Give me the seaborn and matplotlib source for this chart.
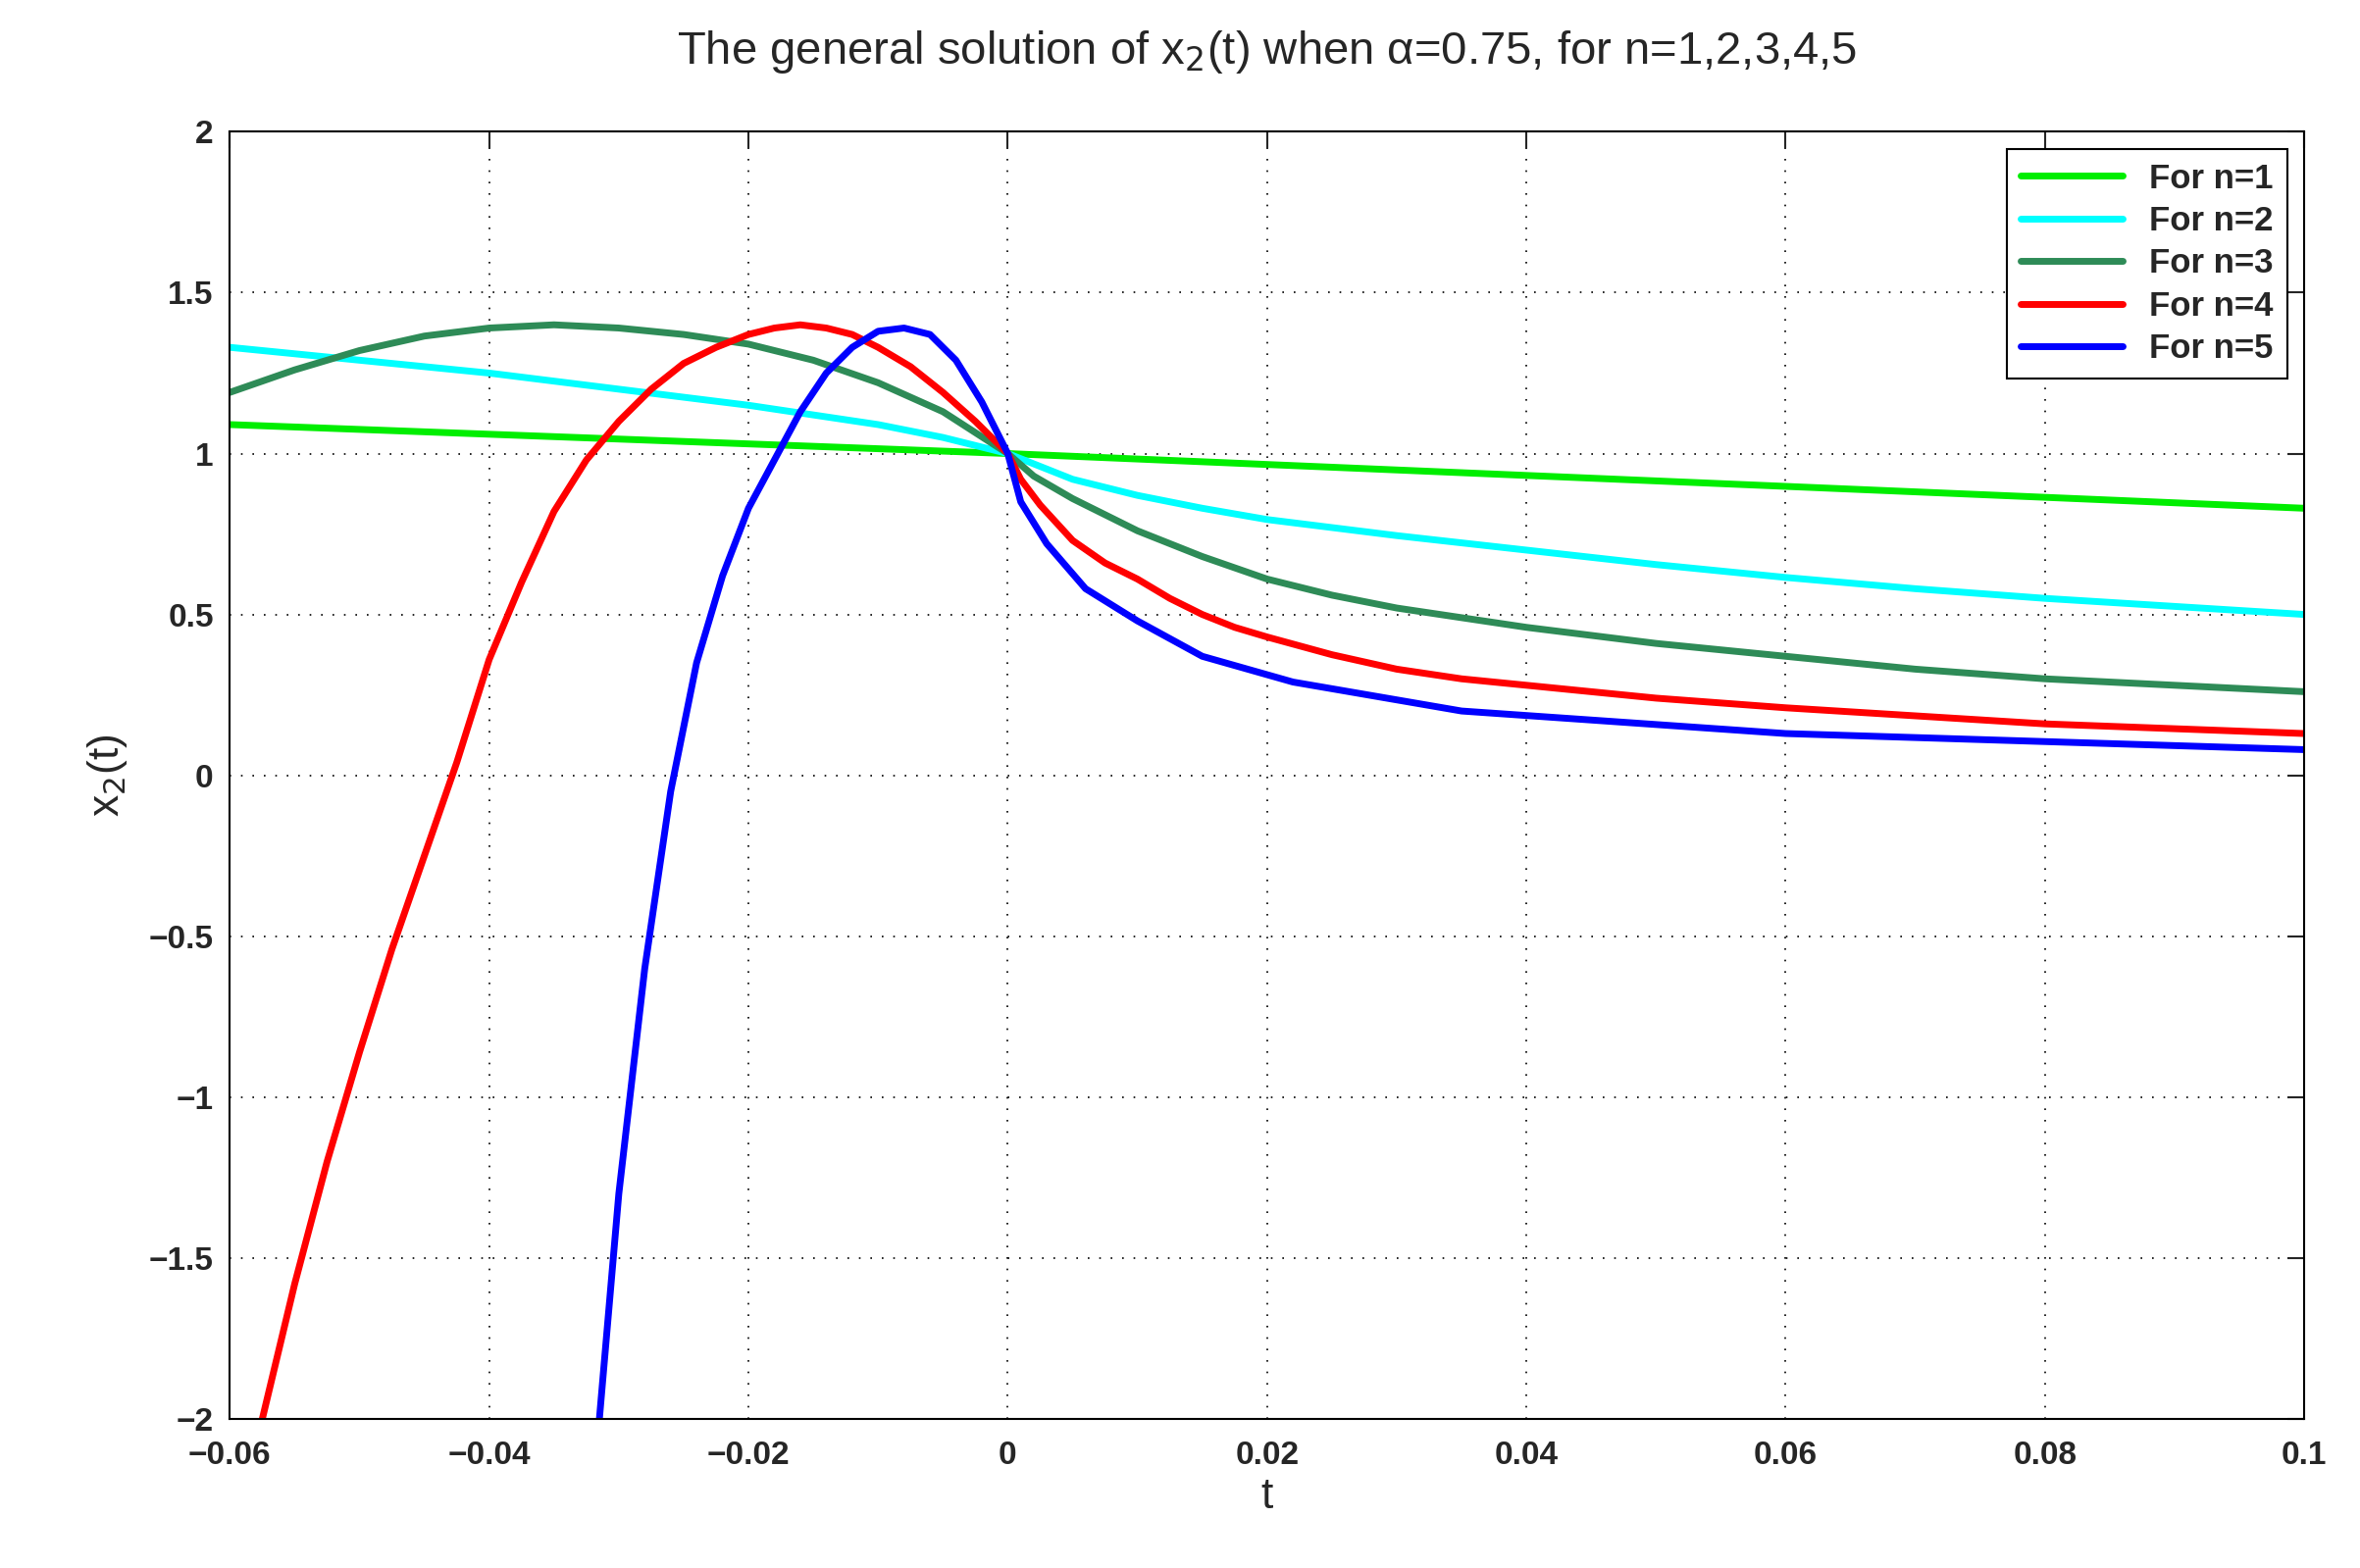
import numpy as np
import pandas as pd
import matplotlib
matplotlib.use("Agg")
import matplotlib.pyplot as plt
import seaborn as sns

# 그림에서 읽은 값
t1 = [-0.06, 0.0, 0.1]
x1 = [1.09, 1.0, 0.83]

t2 = [-0.06, -0.05, -0.04, -0.03, -0.02, -0.015, -0.01, -0.005, 0.0, 0.0025, 0.005,
      0.0075, 0.01, 0.015, 0.02, 0.03, 0.04, 0.05, 0.06, 0.07, 0.08, 0.09, 0.1]
x2 = [1.33, 1.29, 1.25, 1.20, 1.15, 1.12, 1.09, 1.05, 1.0, 0.96, 0.92,
      0.895, 0.87, 0.83, 0.795, 0.745, 0.70, 0.655, 0.615, 0.58, 0.55, 0.525, 0.50]

t3 = [-0.06, -0.055, -0.05, -0.045, -0.04, -0.035, -0.03, -0.025, -0.02, -0.015,
      -0.01, -0.005, 0.0, 0.002, 0.005, 0.0075, 0.01, 0.015, 0.02, 0.025, 0.03,
      0.035, 0.04, 0.05, 0.06, 0.07, 0.08, 0.09, 0.1]
x3 = [1.19, 1.26, 1.32, 1.365, 1.39, 1.40, 1.39, 1.37, 1.34, 1.29,
      1.22, 1.13, 1.0, 0.93, 0.86, 0.81, 0.76, 0.68, 0.61, 0.56, 0.52,
      0.49, 0.46, 0.41, 0.37, 0.33, 0.30, 0.28, 0.26]

t4 = [-0.0575, -0.055, -0.0525, -0.05, -0.0475, -0.045, -0.0425, -0.04, -0.0375, -0.035,
      -0.0325, -0.03, -0.0275, -0.025, -0.0225, -0.02, -0.018, -0.016, -0.014, -0.012,
      -0.01, -0.0075, -0.005, -0.0025, 0.0, 0.001, 0.0025, 0.005, 0.0075, 0.01, 0.0125,
      0.015, 0.0175, 0.02, 0.025, 0.03, 0.035, 0.04, 0.05, 0.06, 0.07, 0.08, 0.09, 0.1]
x4 = [-2.0, -1.58, -1.2, -0.86, -0.54, -0.25, 0.04, 0.36, 0.6, 0.82,
      0.98, 1.1, 1.2, 1.28, 1.33, 1.37, 1.39, 1.40, 1.39, 1.37,
      1.33, 1.27, 1.19, 1.1, 1.0, 0.92, 0.84, 0.73, 0.66, 0.61, 0.55,
      0.50, 0.46, 0.43, 0.375, 0.33, 0.30, 0.28, 0.24, 0.21, 0.185, 0.16, 0.145, 0.13]

t5 = [-0.0315, -0.03, -0.028, -0.026, -0.024, -0.022, -0.02, -0.018, -0.016, -0.014,
      -0.012, -0.01, -0.008, -0.006, -0.004, -0.002, 0.0, 0.001, 0.003, 0.006, 0.01,
      0.015, 0.022, 0.035, 0.06, 0.1]
x5 = [-2.0, -1.3, -0.6, -0.05, 0.35, 0.62, 0.83, 0.98, 1.13, 1.25,
      1.33, 1.38, 1.39, 1.37, 1.29, 1.16, 1.0, 0.85, 0.72, 0.58, 0.48,
      0.37, 0.29, 0.20, 0.13, 0.08]

SERIES = [("For n=1", t1, x1, "#00ee00"),
          ("For n=2", t2, x2, "#00ffff"),
          ("For n=3", t3, x3, "#2e8b57"),
          ("For n=4", t4, x4, "#ff0000"),
          ("For n=5", t5, x5, "#0000ff")]

sns.set_style("white")
plt.rcParams["font.family"] = ["Liberation Sans", "DejaVu Sans"]

fig = plt.figure(figsize=(24.06, 15.99), dpi=100)
ax = fig.add_axes([0.0974, 0.095, 0.879, 0.821])

for name, t, x, c in SERIES:
    sns.lineplot(x=t, y=x, ax=ax, color=c, lw=5, label=name, sort=False)

ax.set_xlim(-0.06, 0.1)
ax.set_ylim(-2, 2)
ax.set_xticks(np.arange(-0.06, 0.1001, 0.02))
ax.set_xticklabels(["\u22120.06", "\u22120.04", "\u22120.02", "0", "0.02", "0.04", "0.06", "0.08", "0.1"])
ax.set_yticks(np.arange(-2, 2.01, 0.5))
ax.set_yticklabels(["\u22122", "\u22121.5", "\u22121", "\u22120.5", "0", "0.5", "1", "1.5", "2"])
ax.tick_params(labelsize=24, direction="in", length=12, width=1.5, top=True, right=True)
ax.tick_params(axis="x", pad=16)
ax.tick_params(axis="y", pad=12)
for lab in ax.get_xticklabels() + ax.get_yticklabels():
    lab.set_fontweight("bold")
ax.grid(True, color="black", ls=(0, (1, 6)), lw=1.2)
for s in ax.spines.values():
    s.set_color("black")
    s.set_linewidth(1.5)

ax.set_xlabel("t", fontsize=32, labelpad=4)
ax.set_ylabel("x$_2$(t)", fontsize=32, labelpad=14)
ax.set_title("The general solution of x$_2$(t) when \u03b1=0.75, for n=1,2,3,4,5", fontsize=34, pad=50)

leg = ax.legend(loc="upper right", fontsize=25, frameon=True, fancybox=False,
                edgecolor="black", borderaxespad=0.5, handlelength=3.0,
                labelspacing=0.3, framealpha=1)
leg.get_frame().set_linewidth(1.5)
for txt in leg.get_texts():
    txt.set_fontweight("bold")

fig.savefig("out.png", dpi=100)
